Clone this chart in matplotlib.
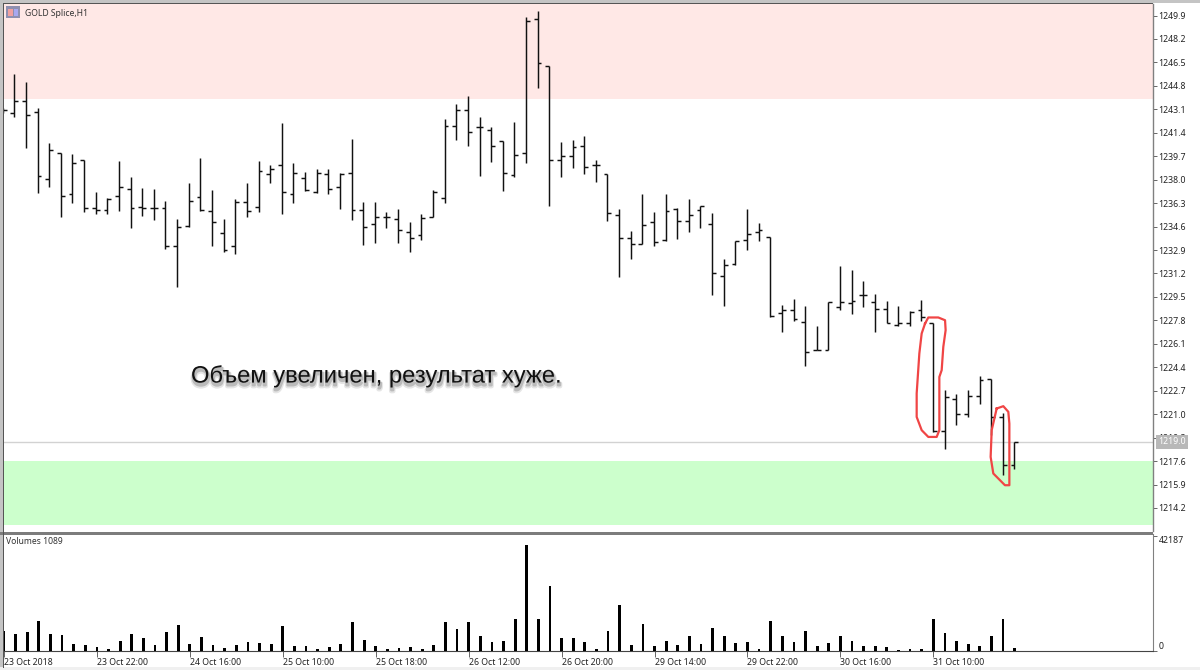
import matplotlib
matplotlib.use("Agg")
import matplotlib.pyplot as plt
import matplotlib.patheffects as pe
from matplotlib.patches import Rectangle
import numpy as np

opens = [1243.04, 1242.80, 1243.72, 1242.92, 1238.02, 1239.95, 1236.93, 1239.44, 1235.91, 1235.79, 1236.81,
         1237.34, 1236.01, 1235.91, 1235.91, 1233.21, 1234.63, 1236.71, 1235.72, 1234.13, 1233.21, 1236.35,
         1236.01, 1238.43, 1239.03, 1236.93, 1238.14, 1237.10, 1238.38, 1237.44, 1238.50, 1235.79, 1234.80,
         1235.31, 1235.12, 1234.22, 1233.98, 1235.31, 1236.69, 1241.91, 1243.04, 1241.81, 1241.62, 1240.82,
         1238.33, 1239.93, 1249.62, 1246.23, 1239.42, 1239.73, 1240.46, 1239.03, 1238.43, 1235.43, 1233.79,
         1233.30, 1234.92, 1233.59, 1235.84, 1235.02, 1235.82, 1234.80, 1231.01, 1231.85, 1233.59, 1234.22,
         1233.81, 1228.30, 1228.57, 1227.70, 1225.64, 1225.67, 1228.78, 1229.03, 1229.65, 1229.12, 1228.61,
         1227.43, 1227.62, 1228.54, 1227.58, 1219.77, 1222.09, 1221.00, 1222.33, 1223.54, 1220.81, 1217.30]
highs = [1243.16, 1245.65, 1245.07, 1243.16, 1240.63, 1239.95, 1239.85, 1239.44, 1237.07, 1236.64, 1239.37,
         1238.19, 1237.39, 1237.29, 1236.47, 1235.14, 1237.75, 1239.54, 1237.27, 1235.14, 1236.57, 1237.75,
         1239.37, 1239.06, 1242.08, 1239.18, 1238.52, 1238.74, 1238.74, 1238.45, 1240.94, 1236.37, 1236.37,
         1235.67, 1235.84, 1234.95, 1235.48, 1237.24, 1242.37, 1243.45, 1244.06, 1242.51, 1241.84, 1240.82,
         1242.17, 1249.76, 1250.20, 1246.23, 1240.72, 1240.84, 1241.16, 1239.39, 1238.43, 1235.84, 1234.27,
         1236.93, 1235.62, 1236.93, 1235.94, 1236.57, 1236.06, 1235.55, 1232.24, 1233.55, 1235.84, 1234.83,
         1233.81, 1228.93, 1229.36, 1228.81, 1227.38, 1229.12, 1231.73, 1231.47, 1230.69, 1229.73, 1229.24,
         1228.81, 1228.45, 1229.29, 1227.58, 1222.74, 1222.45, 1222.74, 1223.76, 1223.54, 1221.12, 1218.99]
lows = [1242.80, 1242.56, 1240.29, 1237.05, 1237.48, 1235.26, 1236.28, 1235.65, 1235.50, 1235.50, 1235.74,
        1234.49, 1235.38, 1235.07, 1232.97, 1230.19, 1234.54, 1235.70, 1233.16, 1232.77, 1232.63, 1235.29,
        1235.65, 1237.75, 1235.50, 1236.28, 1237.17, 1237.05, 1236.98, 1235.87, 1235.07, 1233.28, 1233.38,
        1234.49, 1233.38, 1232.77, 1233.64, 1235.31, 1236.30, 1240.87, 1240.46, 1238.28, 1239.27, 1237.17,
        1238.21, 1239.18, 1244.66, 1236.06, 1238.19, 1238.84, 1238.43, 1237.85, 1234.97, 1230.96, 1232.26,
        1233.30, 1233.18, 1233.55, 1233.67, 1234.17, 1234.51, 1229.65, 1228.86, 1231.78, 1232.87, 1233.57,
        1228.01, 1226.97, 1227.77, 1224.51, 1225.62, 1225.62, 1228.52, 1228.28, 1228.76, 1226.97, 1227.58,
        1227.38, 1227.41, 1227.77, 1219.72, 1218.51, 1220.18, 1220.76, 1221.77, 1219.48, 1216.58, 1217.06]
closes = [1243.04, 1243.72, 1242.71, 1238.23, 1240.14, 1236.81, 1239.22, 1235.91, 1235.79, 1236.59, 1237.44,
          1235.91, 1235.91, 1235.91, 1233.21, 1234.54, 1236.45, 1235.79, 1234.95, 1232.87, 1236.35, 1235.70,
          1238.60, 1238.79, 1237.12, 1238.50, 1237.22, 1238.50, 1237.32, 1238.38, 1235.79, 1234.54, 1235.31,
          1235.31, 1234.34, 1233.79, 1235.21, 1237.07, 1241.91, 1243.04, 1241.45, 1241.81, 1240.43, 1238.48,
          1239.81, 1249.52, 1246.43, 1239.42, 1239.73, 1240.36, 1238.93, 1239.03, 1235.55, 1233.79, 1233.30,
          1234.71, 1233.50, 1235.70, 1235.02, 1235.43, 1236.06, 1231.25, 1231.80, 1233.55, 1234.03, 1234.32,
          1228.13, 1228.57, 1227.89, 1225.52, 1225.64, 1229.12, 1229.12, 1229.24, 1229.65, 1228.66, 1227.62,
          1227.62, 1228.40, 1228.01, 1219.79, 1222.21, 1221.00, 1222.33, 1223.47, 1220.78, 1217.30, 1218.99]
volumes = [7803, 6745, 7670, 12035, 6745, 6480, 2777, 2380, 1587, 793, 3835, 6745, 5025, 2380, 7670, 10448,
           2910, 5555, 2380, 1322, 2380, 3571, 3306, 2910, 9919, 1851, 1851, 926, 1587, 2777, 11373, 4496,
           2116, 793, 1322, 1587, 793, 2380, 11373, 8861, 11373, 6083, 3571, 3835, 12828, 42187, 12828, 25789,
           5290, 5025, 3571, 926, 7935, 18250, 2380, 10844, 2116, 3835, 2380, 6083, 2910, 9125, 6083, 3306,
           3571, 926, 12035, 6083, 3571, 7935, 1851, 3306, 5819, 4100, 2116, 1851, 1587, 397, 793, 661,
           12564, 7009, 3835, 2777, 2116, 5819, 12828, 1322]

price_labels = ["1249.9", "1248.2", "1246.5", "1244.8", "1243.1", "1241.4", "1239.7", "1238.0", "1236.3",
                "1234.6", "1232.9", "1231.2", "1229.5", "1227.8", "1226.1", "1224.4", "1222.7", "1221.0",
                "1219.3", "1217.6", "1215.9", "1214.2"]
time_idx = [0, 8, 16, 24, 32, 40, 48, 56, 64, 72, 80]
time_labels = ["23 Oct 2018", "23 Oct 22:00", "24 Oct 16:00", "25 Oct 10:00", "25 Oct 18:00", "26 Oct 12:00",
               "26 Oct 20:00", "29 Oct 14:00", "29 Oct 22:00", "30 Oct 16:00", "31 Oct 10:00"]
last_price = 1219.0
pink_low = 1243.82
green_high = 1217.6
green_low = 1213.0

# hand drawn red loops on the picture (bar number, price)
loop1_x = [79.31, 79.59, 80.45, 81.03, 81.08, 80.88, 80.74, 80.54, 80.54, 80.31, 79.59, 79.02, 78.59, 78.59, 78.82, 79.02, 79.31]
loop1_y = [1227.57, 1228.01, 1228.01, 1227.81, 1227.09, 1225.88, 1224.19, 1223.70, 1219.84, 1219.35, 1219.35, 1219.84, 1220.80, 1222.50, 1225.40, 1226.85, 1227.57]
loop2_x = [85.47, 86.04, 86.47, 86.56, 86.56, 86.18, 85.18, 84.95, 85.04, 85.47]
loop2_y = [1221.41, 1221.58, 1221.17, 1220.32, 1215.85, 1215.85, 1216.70, 1217.90, 1219.84, 1221.41]

W, H = 1200, 670
plt.rcParams["font.family"] = ["Noto Sans", "DejaVu Sans"]
fig = plt.figure(figsize=(W / 100, H / 100), dpi=100, facecolor="white")


def rect_px(x0, y0, x1, y1):
    return [x0 / W, 1 - y1 / H, (x1 - x0) / W, (y1 - y0) / H]


def band(x0, y0, x1, y1, color):
    fig.add_artist(Rectangle((x0 / W, 1 - y1 / H), (x1 - x0) / W, (y1 - y0) / H,
                             transform=fig.transFigure, facecolor=color, edgecolor="none"))


# window frame around the terminal chart
band(0, 0, W, 3, "#c4c4c4")
band(0, 0, 3, H, "#c4c4c4")
band(0, 667, W, H, "#f0f0f0")

left, right, top, mid, vol_top, vol_bot = 4, 1153, 4, 531, 534, 651


# pixel scale of the terminal
def price_at(y):
    return 1249.9 - (y - 15.5) * 0.07249


def bar_at(x):
    return (x - 2.67) / 11.63


ax = fig.add_axes(rect_px(left, top, right, mid))
ax.set_xlim(bar_at(left), bar_at(right))
ax.set_ylim(price_at(mid), price_at(top))

ax.axhspan(pink_low, price_at(top), color="#ffe8e6", lw=0, zorder=0)
ax.axhspan(green_low, green_high, color="#ccffcc", lw=0, zorder=0)
ax.axhline(last_price, color="#d2d2d2", lw=1, zorder=1)

idx = np.arange(len(opens))
ax.vlines(idx, lows, highs, color="#111111", lw=1.05, zorder=3)
ax.hlines(opens, idx - 0.33, idx, color="#111111", lw=1.05, zorder=3)
ax.hlines(closes, idx, idx + 0.33, color="#111111", lw=1.05, zorder=3)

ax.plot(loop1_x, loop1_y, color="#f04545", lw=1.6, zorder=4, solid_joinstyle="round")
ax.plot(loop2_x, loop2_y, color="#f04545", lw=1.6, zorder=4, solid_joinstyle="round")

ax.yaxis.tick_right()
ax.set_yticks([float(v) for v in price_labels])
ax.set_yticklabels(price_labels)
ax.set_xticks([])
ax.tick_params(axis="y", length=3, width=0.7, color="#666666", labelsize=6.3, pad=1, labelcolor="#222222")
for name in ["top", "left", "bottom"]:
    ax.spines[name].set_visible(False)
ax.spines["right"].set_color("#808080")
ax.spines["right"].set_linewidth(1.0)

ax.text(191 / W, 1 - 376 / H, "Объем увеличен, результат хуже.", transform=fig.transFigure,
        family="Liberation Sans", fontsize=17.1, color="#111111", va="center", ha="left", zorder=6,
        path_effects=[pe.SimpleLineShadow(offset=(0.5, -2.6), shadow_color="#000000", alpha=0.10, linewidth=3.2),
                      pe.SimpleLineShadow(offset=(0.5, -2.0), shadow_color="#000000", alpha=0.18, linewidth=1.6),
                      pe.Normal()])

ax.text(25 / W, 1 - 13 / H, "GOLD Splice,H1", transform=fig.transFigure, fontsize=6.2, color="#333333",
        va="center", ha="left")
# small window icon next to the title
band(6, 6, 20, 18, "#8f8fb0")
band(8, 9, 13, 16, "#f0a0a0")
band(14, 9, 18, 16, "#a8a8f0")

# last price flag
ax.text(1158 / W, 1 - 442 / H, "1219.0", transform=fig.transFigure, fontsize=6.3, color="white",
        va="center", ha="left", zorder=7,
        bbox=dict(facecolor="#b8b8b8", edgecolor="none", pad=1.6))

axv = fig.add_axes(rect_px(left, vol_top, right, vol_bot))
axv.set_xlim(bar_at(left), bar_at(right))
vol_max = max(volumes) * 117 / 106
axv.set_ylim(0, vol_max)
axv.bar(idx, volumes, width=0.24, color="black", zorder=3)
axv.yaxis.tick_right()
axv.set_yticks([0, vol_max * 0.985])
axv.set_yticklabels(["0", "42187"])
axv.get_yticklabels()[0].set_va("bottom")
axv.get_yticklabels()[1].set_va("top")
axv.tick_params(axis="y", length=3, width=0.7, color="#666666", labelsize=6.3, pad=1, labelcolor="#222222")
axv.set_xticks(time_idx)
axv.set_xticklabels(time_labels, ha="left")
axv.tick_params(axis="x", length=4, width=0.7, color="#666666", labelsize=6.3, pad=1, labelcolor="#222222")
axv.spines["top"].set_visible(False)
axv.spines["left"].set_visible(False)
axv.spines["bottom"].set_color("#444444")
axv.spines["right"].set_color("#808080")
axv.text(6 / W, 1 - 542 / H, "Volumes 1089", transform=fig.transFigure, fontsize=6.2, color="#333333",
         va="center", ha="left")

# separators between the panels
band(0, 532, right, 534.5, "#7c7c7c")
band(3, 3, right, 4, "#555555")
band(3, 3, 4, 668, "#555555")

fig.savefig("out.png", dpi=100)
